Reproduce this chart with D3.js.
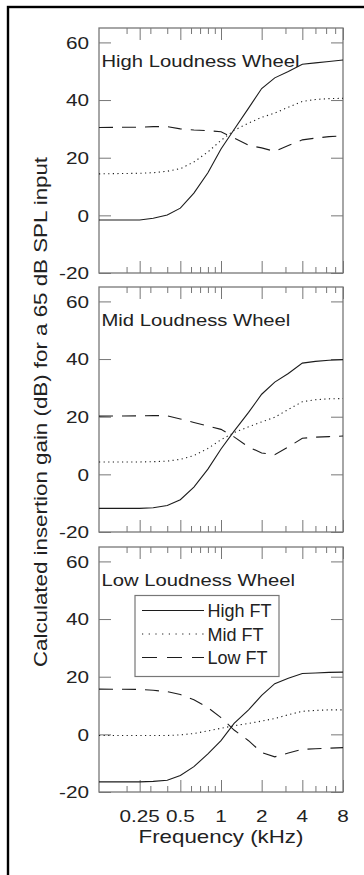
<!DOCTYPE html>
<html>
<head>
<meta charset="utf-8">
<script src="https://cdn.jsdelivr.net/npm/d3@7"></script>
<style>
  body { margin: 0; background: #fff; }
  svg { display: block; }
  text { font-family: "Liberation Sans", Arial, Helvetica, sans-serif; fill: #222; }
</style>
</head>
<body>
<svg id="chart" width="364" height="875"></svg>
<script>
// Frequencies (kHz) at which the gain curves are sampled
const frequencies = [0.125, 0.25, 0.315, 0.4, 0.5, 0.63, 0.8, 1, 1.25, 1.6, 2, 2.5, 3.15, 4, 5, 6.3, 8];

const panelTitles = ["High Loudness Wheel", "Mid Loudness Wheel", "Low Loudness Wheel"];
const seriesNames = ["High FT", "Mid FT", "Low FT"];

// Insertion gain (dB) for a 65 dB SPL input
const highWheelHighFT = [-1.6, -1.6, -1.0, 0.1, 2.5, 7.7, 14.8, 23, 29.8, 37.2, 44, 47.7, 49.9, 52.4, 52.9, 53.4, 53.9];
const highWheelMidFT  = [14.4, 14.6, 14.8, 15.3, 16.2, 18.5, 22, 26, 29.5, 32, 34, 35.5, 37.5, 39.5, 40.2, 40.5, 40.6];
const highWheelLowFT  = [30.5, 30.6, 30.8, 30.8, 30, 29.6, 29.4, 29.0, 26.8, 24.3, 23.4, 22.2, 24.2, 26.2, 26.8, 27.3, 27.6];

const midWheelHighFT = [-11.8, -11.8, -11.6, -10.8, -8.8, -4.4, 1.8, 8.8, 15, 21.5, 27.8, 32, 35, 38.6, 39.2, 39.6, 39.8];
const midWheelMidFT  = [4.3, 4.3, 4.4, 4.6, 5.2, 6.5, 9, 12, 14.5, 16.5, 18.2, 19.8, 22.5, 25.2, 25.9, 26.2, 26.3];
const midWheelLowFT  = [20.2, 20.3, 20.4, 20.3, 19.2, 18, 16.8, 15.6, 13, 9.5, 7.4, 6.8, 9.5, 12.5, 12.9, 13.1, 13.3];

const lowWheelHighFT = [-16.5, -16.5, -16.3, -15.9, -14.3, -11.2, -6.8, -2.2, 3.8, 8.5, 13.5, 17.6, 19.5, 21.1, 21.3, 21.5, 21.6];
const lowWheelMidFT  = [-0.4, -0.4, -0.4, -0.4, -0.2, 0.3, 1.2, 2.1, 3.0, 3.8, 4.6, 5.5, 6.8, 8.0, 8.3, 8.5, 8.5];
const lowWheelLowFT  = [15.7, 15.6, 15.3, 14.8, 13.8, 12, 9.3, 5.8, 1.5, -2.2, -6.3, -7.8, -6.5, -5.2, -5.0, -4.8, -4.6];

const majorTicks = [0.25, 0.5, 1, 2, 4, 8];
const majorTickLabels = ["0.25", "0.5", "1", "2", "4", "8"];
const minorTicks = [0.2, 0.3, 0.4, 0.6, 0.7, 0.8, 0.9, 3, 5, 6, 7];
const gainTicks = [-20, 0, 20, 40, 60];
const gainTickLabels = ["-20", "0", "20", "40", "60"];

const xLabel = "Frequency (kHz)";
const yLabel = "Calculated insertion gain (dB) for a 65 dB SPL input";

const panels = [
  [highWheelHighFT, highWheelMidFT, highWheelLowFT],
  [midWheelHighFT, midWheelMidFT, midWheelLowFT],
  [lowWheelHighFT, lowWheelMidFT, lowWheelLowFT]
];

// ---- layout ----
const svg = d3.select("#chart");
const left = 99, right = 343;
const panelTops = [28, 287, 547];
const panelH = 245;
const frameColor = "#777";
const inkColor = "#1c1c1c";
const dashStyles = [null, "1.2,3.4", "14,9"];

const x = d3.scaleLog().domain([0.125, 8]).range([left, right]);

// text with a horizontal stretch in its own writing direction
function stretchedText(g, str, tx, ty, size, sx, anchor, rotate) {
  const rot = rotate ? ` rotate(${rotate})` : "";
  return g.append("text")
    .attr("transform", `translate(${tx},${ty})${rot} scale(${sx},1)`)
    .attr("text-anchor", anchor)
    .style("font-size", size + "px")
    .text(str);
}

// outer frame
svg.append("rect")
  .attr("x", 8).attr("y", 7).attr("width", 420).attr("height", 920)
  .attr("fill", "none").attr("stroke", "#000").attr("stroke-width", 2.4);

panels.forEach((series, pi) => {
  const top = panelTops[pi];
  const bottom = top + panelH;
  const y = d3.scaleLinear().domain([-20, 65]).range([bottom, top]);
  const g = svg.append("g");

  // axes (ticks only, pointing inward)
  const styleAxis = sel => {
    sel.select(".domain").remove();
    sel.selectAll("line").attr("stroke", frameColor).attr("stroke-width", 1);
    sel.selectAll("text").remove();
  };
  g.append("g").attr("transform", `translate(0,${bottom})`)
    .call(d3.axisBottom(x).tickValues(majorTicks).tickSize(-12).tickSizeOuter(0).tickFormat(""))
    .call(styleAxis);
  g.append("g").attr("transform", `translate(0,${bottom})`)
    .call(d3.axisBottom(x).tickValues(minorTicks).tickSize(-6).tickSizeOuter(0).tickFormat(""))
    .call(styleAxis);
  g.append("g").attr("transform", `translate(0,${top})`)
    .call(d3.axisTop(x).tickValues(majorTicks).tickSize(-12).tickSizeOuter(0).tickFormat(""))
    .call(styleAxis);
  g.append("g").attr("transform", `translate(0,${top})`)
    .call(d3.axisTop(x).tickValues(minorTicks).tickSize(-6).tickSizeOuter(0).tickFormat(""))
    .call(styleAxis);
  g.append("g").attr("transform", `translate(${left},0)`)
    .call(d3.axisLeft(y).tickValues(gainTicks).tickSize(-12).tickSizeOuter(0).tickFormat(""))
    .call(styleAxis);
  g.append("g").attr("transform", `translate(${right},0)`)
    .call(d3.axisRight(y).tickValues(gainTicks).tickSize(-12).tickSizeOuter(0).tickFormat(""))
    .call(styleAxis);

  // panel frame
  g.append("rect")
    .attr("x", left).attr("y", top).attr("width", right - left).attr("height", panelH)
    .attr("fill", "none").attr("stroke", frameColor).attr("stroke-width", 1.3);

  // gain tick labels
  gainTicks.forEach((v, i) => {
    stretchedText(g, gainTickLabels[i], 89, y(v) + 6.2, 17, 1.22, "end");
  });

  // curves
  const line = d3.line().x((d, i) => x(frequencies[i])).y(d => y(d));
  series.forEach((vals, si) => {
    const p = g.append("path").datum(vals)
      .attr("d", line)
      .attr("fill", "none")
      .attr("stroke", inkColor)
      .attr("stroke-width", 1.1);
    if (dashStyles[si]) p.attr("stroke-dasharray", dashStyles[si]);
  });

  // panel title
  stretchedText(g, panelTitles[pi], 101.5, top + 38.5, 17.3, 1.17, "start");

  // legend in the last panel
  if (pi === 2) {
    const lg = g.append("g");
    lg.append("rect")
      .attr("x", 135).attr("y", 595.5).attr("width", 144).attr("height", 81)
      .attr("fill", "#fff").attr("stroke", frameColor).attr("stroke-width", 1.2);
    seriesNames.forEach((name, si) => {
      const cy = 610.5 + si * 23.5;
      const l = lg.append("line")
        .attr("x1", 142).attr("x2", 204).attr("y1", cy).attr("y2", cy)
        .attr("stroke", inkColor).attr("stroke-width", 1.1);
      if (dashStyles[si]) l.attr("stroke-dasharray", si === 1 ? "1.2,5.5" : "15,10");
      stretchedText(lg, name, 207.5, cy + 6.5, 17.5, 1.03, "start");
    });
  }

  // frequency labels under the last panel
  if (pi === 2) {
    majorTicks.forEach((f, i) => {
      stretchedText(g, majorTickLabels[i], x(f), 822, 17, 1.22, "middle");
    });
    stretchedText(g, xLabel, (left + right) / 2, 842.5, 18, 1.24, "middle");
  }
});

// y-axis title
stretchedText(svg, yLabel, 46.5, (panelTops[0] + panelTops[2] + panelH) / 2 + 2, 18, 1.24, "middle", -90);
</script>
</body>
</html>
